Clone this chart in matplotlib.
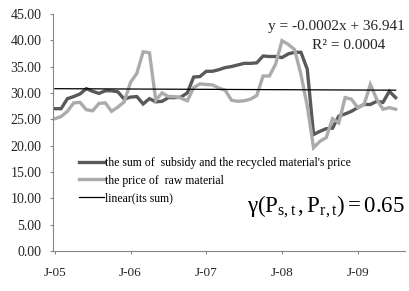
import matplotlib
matplotlib.use("Agg")
import matplotlib.pyplot as plt
import numpy as np

# monthly values, Jan 2005 .. Jul 2009
sum_price = [27.0, 27.0, 28.9, 29.3, 29.8, 30.8, 30.3, 29.9, 30.4, 30.4,
             30.2, 28.8, 29.2, 29.3, 27.9, 28.9, 28.3, 28.4, 29.1, 29.1,
             29.2, 30.0, 33.0, 33.1, 34.1, 34.1, 34.4, 34.8, 35.0, 35.3,
             35.6, 35.6, 35.7, 37.0, 36.9, 36.9, 36.7, 37.4, 37.7, 37.7,
             34.5, 22.1, 22.7, 23.2, 23.3, 25.6, 26.0, 26.5, 27.2, 27.8,
             27.8, 28.4, 28.2, 30.3, 29.1]
raw_price = [25.1, 25.5, 26.5, 28.1, 28.2, 26.8, 26.6, 28.0, 28.1, 26.5,
             27.3, 28.3, 32.0, 33.7, 37.8, 37.6, 28.6, 30.0, 29.3, 29.3,
             29.0, 28.5, 31.0, 31.7, 31.6, 31.5, 30.9, 30.5, 28.6, 28.4,
             28.5, 28.8, 29.5, 33.2, 33.2, 35.5, 39.9, 39.2, 38.2, 33.5,
             27.5, 19.6, 20.8, 21.5, 25.1, 24.3, 29.1, 28.8, 27.2, 27.8,
             31.6, 28.8, 26.9, 27.2, 26.9]
tick_pos = [0, 12, 24, 36, 48]
tick_lab = ["J-05", "J-06", "J-07", "J-08", "J-09"]
y_ticks = np.arange(0, 46, 5)

plt.rcParams["font.family"] = ["Liberation Serif", "DejaVu Serif"]
plt.rcParams["mathtext.fontset"] = "custom"
plt.rcParams["mathtext.rm"] = "Liberation Serif"
plt.rcParams["mathtext.it"] = "Liberation Serif:italic"

x = np.arange(len(sum_price))
k, b = np.polyfit(x, sum_price, 1)

fig = plt.figure(figsize=(4.10, 2.91), dpi=100)
ax = fig.add_axes([0.129, 0.1375, 0.859, 0.815])

ax.plot(x, sum_price, color="#595959", lw=2.4, solid_joinstyle="miter",
        label="the sum of  subsidy and the recycled material's price")
ax.plot(x, raw_price, color="#ababab", lw=2.4, solid_joinstyle="miter",
        label="the price of  raw material")
ax.plot(x, k * x + b, color="black", lw=0.9, label="linear(its sum)")

ax.set_xlim(-0.3, 55.5)
ax.set_ylim(0, 45)
ax.set_yticks(y_ticks)
ax.set_yticklabels(["%.2f" % v for v in y_ticks])
ax.set_xticks(tick_pos)
ax.set_xticklabels(tick_lab)
for s in ["top", "right"]:
    ax.spines[s].set_visible(False)
for s in ["left", "bottom"]:
    ax.spines[s].set_color("#868686")
    ax.spines[s].set_linewidth(0.8)
ax.tick_params(axis="both", direction="out", length=2.2, width=0.8,
               color="#868686", labelsize=10, labelcolor="#262626")
ax.tick_params(axis="y", pad=6)
ax.tick_params(axis="x", pad=9, labelsize=9.5)

ax.legend(loc="upper left", bbox_to_anchor=(0.06, 0.415), frameon=False,
          fontsize=8.5, handlelength=2.1, handletextpad=0.15,
          labelspacing=0.45, borderaxespad=0)

ax.text(0.998, 0.975, "y = -0.0002x + 36.941", transform=ax.transAxes,
        ha="right", va="top", fontsize=11, color="#262626")
ax.text(0.84, 0.895, "R² = 0.0004", transform=ax.transAxes,
        ha="center", va="top", fontsize=11, color="#262626")
ax.text(0.998, 0.185, r"$\mathrm{γ(P_{s,t}\,,P_{r,t}) = 0.65}$",
        transform=ax.transAxes, ha="right", va="center", fontsize=16.5,
        color="black")

fig.savefig("out.png", dpi=100)
